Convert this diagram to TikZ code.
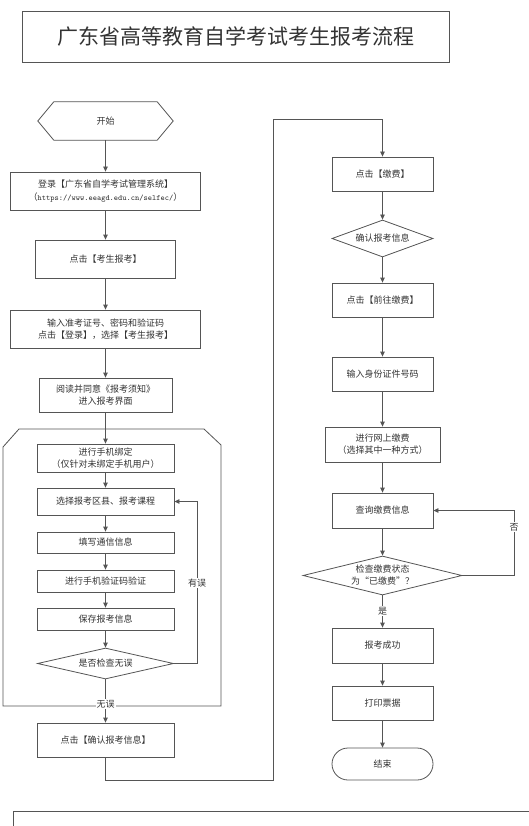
\documentclass[tikz,border=0pt]{standalone}
\usepackage{fontspec}
\setmainfont{Noto Sans CJK SC}
\usetikzlibrary{arrows.meta,shapes.geometric,shapes.misc,calc}
\definecolor{ln}{HTML}{555555}
\definecolor{tx}{HTML}{333333}
\begin{document}
\begin{tikzpicture}[x=1pt,y=-1pt,
  every node/.style={text=tx,font=\fontsize{9}{12}\selectfont,inner sep=0pt,align=center},
  box/.style={draw=ln,line width=0.8pt,rectangle,minimum width=#1},
  box/.default=101pt,
  dia/.style={draw=ln,line width=0.8pt,diamond,inner sep=0pt},
  conn/.style={draw=ln,line width=0.8pt,-{Triangle[length=5pt,width=4.5pt]}},
  line/.style={draw=ln,line width=0.8pt},
  lbl/.style={fill=white,inner sep=1pt}]
\useasboundingbox[fill=white] (0,0) rectangle (529,826);

% title
\node[draw=ln,line width=0.8pt,minimum width=427pt,minimum height=51pt,font=\fontsize{21}{24}\selectfont] (title) at (235.5,36.5) {广东省高等教育自学考试考生报考流程};

% left column
\node[minimum width=135pt,minimum height=38pt] (start) at (105.5,121) {开始};
\draw[line] (start.west) -- ($(start.north west)+(16,0)$) -- ($(start.north east)+(-16,0)$) -- (start.east) -- ($(start.south east)+(-16,0)$) -- ($(start.south west)+(16,0)$) -- cycle;

\node[box=190pt,minimum height=38pt] (login) at (105.5,191) {登录【广东省自学考试管理系统】\\[1pt]（{\ttfamily\fontsize{8}{10}\selectfont https://www.eeagd.edu.cn/selfec/}）};
\node[box=140pt,minimum height=38pt] (kssb) at (105.5,259) {点击【考生报考】};
\node[box=190pt,minimum height=38pt] (input) at (105.5,329) {输入准考证号、密码和验证码\\点击【登录】，选择【考生报考】};
\node[box=133pt,minimum height=34pt] (read) at (105.5,395) {阅读并同意《报考须知》\\进入报考界面};

% container
\draw[line] (3,447) -- (19,429) -- (204,429) -- (221,445) -- (221,706) -- (3,706) -- cycle;

\node[box=137pt,minimum height=28pt] (bind) at (105.5,458) {进行手机绑定\\（仅针对未绑定手机用户）};
\node[box=137pt,minimum height=27pt] (choose) at (105.5,501.5) {选择报考区县、报考课程};
\node[box=137pt,minimum height=21pt] (fill) at (105.5,542.5) {填写通信信息};
\node[box=137pt,minimum height=22pt] (verify) at (105.5,581) {进行手机验证码验证};
\node[box=137pt,minimum height=22pt] (save) at (105.5,619) {保存报考信息};
\node[dia,minimum width=136pt,minimum height=31pt,aspect=4.4] (check) at (105.5,663.5) {是否检查无误};
\node[box=137pt,minimum height=34pt] (confirm) at (105.5,740) {点击【确认报考信息】};

% right column
\node[box,minimum height=34pt] (pay) at (382.5,174) {点击【缴费】};
\node[dia,minimum width=101pt,minimum height=37pt,aspect=2.7] (cinfo) at (382.5,238.5) {确认报考信息};
\node[box,minimum height=34pt] (gopay) at (382.5,300) {点击【前往缴费】};
\node[box,minimum height=34pt] (idn) at (382.5,374) {输入身份证件号码};
\node[box=115pt,minimum height=35pt] (online) at (382.5,444.5) {进行网上缴费\\（选择其中一种方式）};
\node[box,minimum height=35pt] (query) at (382.5,510.5) {查询缴费信息};
\node[dia,minimum width=159pt,minimum height=39pt,aspect=4] (check2) at (382.5,575.5) {检查缴费状态\\为“已缴费”？};
\node[box,minimum height=35pt] (succ) at (382.5,645.5) {报考成功};
\node[box,minimum height=34pt] (prt) at (382.5,703) {打印票据};
\node[draw=ln,line width=0.8pt,rounded rectangle,minimum width=101pt,minimum height=32pt] (fin) at (382.5,764) {结束};

% connectors left
\draw[conn] (start.south) -- (login.north);
\draw[conn] (login.south) -- (kssb.north);
\draw[conn] (kssb.south) -- (input.north);
\draw[conn] (input.south) -- (read.north);
\draw[conn] (read.south) -- (bind.north);
\draw[conn] (bind.south) -- (choose.north);
\draw[conn] (choose.south) -- (fill.north);
\draw[conn] (fill.south) -- (verify.north);
\draw[conn] (verify.south) -- (save.north);
\draw[conn] (save.south) -- (check.north);
\draw[conn] (check.south) -- (confirm.north);
\node[lbl] (wuwu) at (105.5,704) {无误};
\coordinate (la) at (197,663.5);
\draw[conn] (check.east) -- (la) |- (choose.east);
\node[lbl] (youwu) at (197,583) {有误};

% link left to right
\coordinate (c1) at (273,780);
\coordinate (c2) at (273,119);
\draw[conn] (confirm.south) |- (c1) -- (c2) -| (pay.north);

% connectors right
\draw[conn] (pay.south) -- (cinfo.north);
\draw[conn] (cinfo.south) -- (gopay.north);
\draw[conn] (gopay.south) -- (idn.north);
\draw[conn] (idn.south) -- (online.north);
\draw[conn] (online.south) -- (query.north);
\draw[conn] (query.south) -- (check2.north);
\draw[conn] (check2.south) -- (succ.north);
\node[lbl] (shi) at (382.5,611) {是};
\draw[conn] (succ.south) -- (prt.north);
\draw[conn] (prt.south) -- (fin.north);
\coordinate (lb) at (514,575.5);
\draw[conn] (check2.east) -- (lb) |- (query.east);
\node[lbl] (fou) at (514,527) {否};

% bottom box (cut off)
\draw[line] (13,830) -- (13,811) -- (535,811);
\end{tikzpicture}
\end{document}
